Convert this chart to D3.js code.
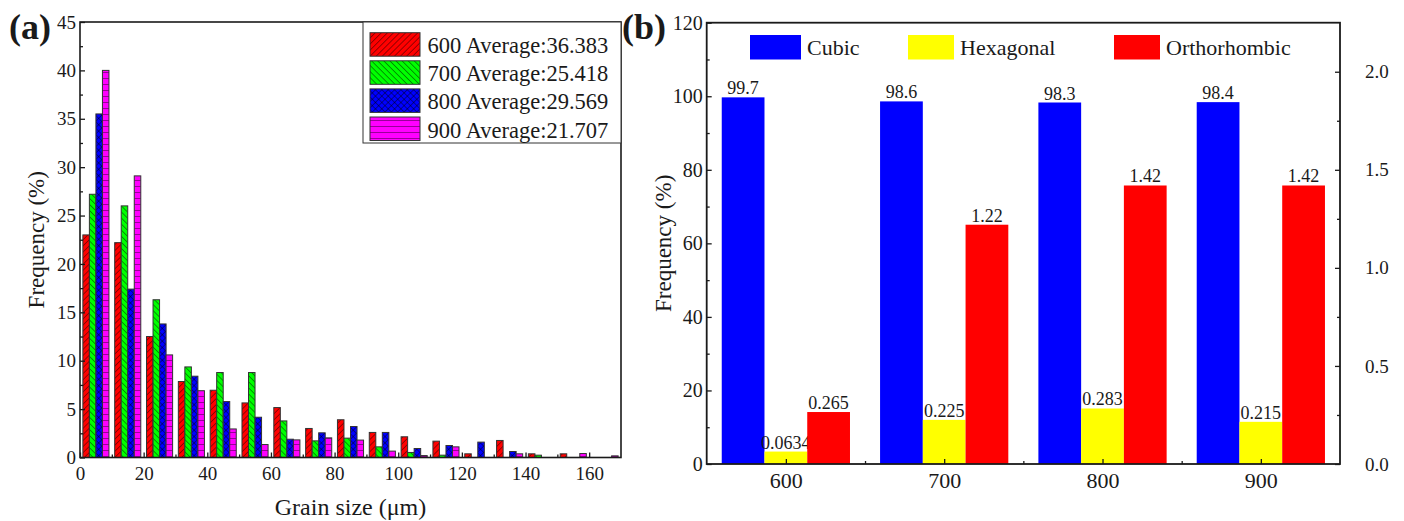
<!DOCTYPE html>
<html>
<head>
<meta charset="utf-8">
<script src="https://cdn.jsdelivr.net/npm/d3@7"></script>
<style>
  body { margin: 0; background: #fff; }
  svg { display: block; }
  text { font-family: "Liberation Serif", "Times New Roman", serif; fill: #1a1a1a; }
</style>
</head>
<body>
<svg id="chart" width="1404" height="521"></svg>
<script>
// ---------- Panel (a): grain size distribution, 10 µm bins ----------
const binStarts = [0, 10, 20, 30, 40, 50, 60, 70, 80, 90, 100, 110, 120, 130, 140, 150, 160];
const temps = ["600", "700", "800", "900"];
const averages = ["36.383", "25.418", "29.569", "21.707"];
const freq600 = [23.0, 22.2, 12.5, 7.85, 6.95, 5.64, 5.16, 3.0, 3.9, 2.59, 2.14, 1.69, 0.38, 1.76, 0.38, 0.38, 0];
const freq700 = [27.2, 26.0, 16.3, 9.36, 8.78, 8.78, 3.78, 1.72, 2.0, 1.1, 0.52, 0.24, 0, 0, 0.24, 0, 0];
const freq800 = [35.5, 17.4, 13.8, 8.4, 5.78, 4.16, 1.89, 2.55, 3.2, 2.59, 0.93, 1.24, 1.59, 0.62, 0, 0, 0];
const freq900 = [40.0, 29.1, 10.6, 6.9, 2.95, 1.34, 1.82, 2.03, 1.8, 0.66, 0.2, 1.1, 0, 0.38, 0, 0.41, 0.17];
const sizeTicks = [0, 20, 40, 60, 80, 100, 120, 140, 160];
const sizeMinor = [10, 30, 50, 70, 90, 110, 130, 150];
const freqTicksA = [0, 5, 10, 15, 20, 25, 30, 35, 40, 45];
const freqMinorA = [2.5, 7.5, 12.5, 17.5, 22.5, 27.5, 32.5, 37.5, 42.5];

// ---------- Panel (b): phase fractions per annealing temperature ----------
const anneal = [600, 700, 800, 900];
const annealMinor = [650, 750, 850];
const phases = ["Cubic", "Hexagonal", "Orthorhombic"];
const cubic = [99.7, 98.6, 98.3, 98.4];
const hexagonal = [0.0634, 0.225, 0.283, 0.215];
const orthorhombic = [0.265, 1.22, 1.42, 1.42];
const leftTicksB = [0, 20, 40, 60, 80, 100, 120];
const leftMinorB = [10, 30, 50, 70, 90, 110];
const rightTicksB = [0, 0.5, 1.0, 1.5, 2.0];
const rightMinorB = [0.25, 0.75, 1.25, 1.75];

const svg = d3.select("#chart");
const ink = "#1a1a1a";

// ---------- hatch patterns ----------
const defs = svg.append("defs");
function hatch(id, color, size, angle, lines) {
  const p = defs.append("pattern")
    .attr("id", id)
    .attr("patternUnits", "userSpaceOnUse")
    .attr("width", size).attr("height", size)
    .attr("patternTransform", `rotate(${angle})`);
  p.append("rect").attr("width", size).attr("height", size).attr("fill", color);
  lines.forEach(l => {
    p.append("line")
      .attr("x1", l[0] * size).attr("y1", l[1] * size)
      .attr("x2", l[2] * size).attr("y2", l[3] * size)
      .attr("stroke", "#000").attr("stroke-width", 0.8);
  });
}
hatch("h600", "#ff0000", 4.3, 45, [[0, 0, 0, 1]]);
hatch("h700", "#00ff00", 4.3, -45, [[0, 0, 0, 1]]);
hatch("h800", "#0000ff", 4.5, 45, [[0, 0, 0, 1], [0, 0, 1, 0]]);
hatch("h900", "#ff00ff", 6, 0, [[0, 0, 1, 0]]);
const fills = ["url(#h600)", "url(#h700)", "url(#h800)", "url(#h900)"];
const seriesA = [freq600, freq700, freq800, freq900];

// ---------- Panel (a) ----------
const A = { left: 80, right: 621, top: 22, bottom: 457.5 };
const xA = d3.scaleLinear().domain([0, 170]).range([A.left, A.right]);
const yA = d3.scaleLinear().domain([0, 45]).range([A.bottom, A.top]);
// four bars side by side inside each 10 µm bin
const inBin = d3.scaleBand().domain(temps).range([0.9, 9.1]);

const gA = svg.append("g");
temps.forEach((t, si) => {
  gA.append("g").selectAll("rect")
    .data(binStarts.map((b, i) => ({ b, v: seriesA[si][i] })).filter(d => d.v > 0))
    .join("rect")
    .attr("x", d => xA(d.b + inBin(t)))
    .attr("width", xA(inBin.bandwidth()) - xA(0))
    .attr("y", d => yA(d.v))
    .attr("height", d => yA(0) - yA(d.v))
    .attr("fill", fills[si])
    .attr("stroke", "#333")
    .attr("stroke-width", 1);
});

function styleAxis(g, size) {
  g.select(".domain").remove();
  g.selectAll(".tick line").attr("stroke", ink).attr("stroke-width", 1.3);
  g.selectAll("text").style("font-size", size + "px").attr("fill", ink);
}

gA.append("g").attr("transform", `translate(${A.left},0)`)
  .call(d3.axisLeft(yA).tickValues(freqTicksA).tickSize(-5).tickPadding(4).tickFormat(d3.format("d")))
  .call(g => styleAxis(g, 19));
gA.append("g").attr("transform", `translate(${A.left},0)`)
  .call(d3.axisLeft(yA).tickValues(freqMinorA).tickSize(-3).tickFormat(""))
  .call(g => styleAxis(g, 19));
gA.append("g").attr("transform", `translate(0,${A.bottom})`)
  .call(d3.axisBottom(xA).tickValues(sizeTicks).tickSize(-5).tickPadding(9).tickFormat(d3.format("d")))
  .call(g => styleAxis(g, 19));
gA.append("g").attr("transform", `translate(0,${A.bottom})`)
  .call(d3.axisBottom(xA).tickValues(sizeMinor).tickSize(-3).tickFormat(""))
  .call(g => styleAxis(g, 19));

gA.append("rect")
  .attr("x", A.left).attr("y", A.top)
  .attr("width", A.right - A.left).attr("height", A.bottom - A.top)
  .attr("fill", "none").attr("stroke", ink).attr("stroke-width", 1.6);

// legend
const legA = gA.append("g");
legA.append("rect")
  .attr("x", 363).attr("y", A.top).attr("width", A.right - 363).attr("height", 121)
  .attr("fill", "#fff").attr("stroke", "#333").attr("stroke-width", 1);
temps.forEach((t, i) => {
  const y0 = 32.7 + i * 28.1;
  legA.append("rect").attr("x", 370).attr("y", y0).attr("width", 50).attr("height", 23.5)
    .attr("fill", fills[i]).attr("stroke", "#333").attr("stroke-width", 1);
  legA.append("text").attr("x", 427.5).attr("y", y0 + 20.5)
    .style("font-size", "22.5px").text(`${t} Average:${averages[i]}`);
});

svg.append("text").attr("x", (A.left + A.right) / 2).attr("y", 515)
  .attr("text-anchor", "middle").style("font-size", "24px").text("Grain size (μm)");
svg.append("text").attr("transform", `translate(44,${(A.top + A.bottom) / 2}) rotate(-90)`)
  .attr("text-anchor", "middle").style("font-size", "23px").text("Frequency (%)");
svg.append("text").attr("x", 9).attr("y", 38.5)
  .style("font-size", "36px").style("font-weight", "bold").text("(a)");

// ---------- Panel (b) ----------
const B = { left: 706.7, right: 1340, top: 22.7, bottom: 464 };
const xB = d3.scaleLinear().domain([550, 950]).range([B.left, B.right]);
const yL = d3.scaleLinear().domain([0, 120]).range([B.bottom, B.top]);
const yR = d3.scaleLinear().domain([0, 2.25]).range([B.bottom, B.top]);
const inGroup = d3.scaleBand().domain(phases).range([-40.5, 40.5]);
const phaseColors = ["#0000ff", "#ffff00", "#ff0000"];
const phaseValues = [cubic, hexagonal, orthorhombic];
// cubic reads against the left axis, the minor phases against the right one
const phaseScale = [yL, yR, yR];

const gB = svg.append("g");
phases.forEach((ph, pi) => {
  const ys = phaseScale[pi];
  const data = anneal.map((a, i) => ({ a, v: phaseValues[pi][i] }));
  const w = xB(550 + inGroup.bandwidth()) - xB(550);
  gB.append("g").selectAll("rect").data(data).join("rect")
    .attr("x", d => xB(d.a + inGroup(ph)))
    .attr("width", w)
    .attr("y", d => ys(d.v))
    .attr("height", d => ys(0) - ys(d.v))
    .attr("fill", phaseColors[pi]);
  gB.append("g").selectAll("text").data(data).join("text")
    .attr("x", d => xB(d.a + inGroup(ph)) + w / 2)
    .attr("y", d => ys(d.v) - 3)
    .attr("text-anchor", "middle")
    .style("font-size", "18px")
    .text(d => String(d.v));
});

gB.append("g").attr("transform", `translate(${B.left},0)`)
  .call(d3.axisLeft(yL).tickValues(leftTicksB).tickSize(-5).tickPadding(4).tickFormat(d3.format("d")))
  .call(g => styleAxis(g, 20));
gB.append("g").attr("transform", `translate(${B.left},0)`)
  .call(d3.axisLeft(yL).tickValues(leftMinorB).tickSize(-3).tickFormat(""))
  .call(g => styleAxis(g, 20));
gB.append("g").attr("transform", `translate(${B.right},0)`)
  .call(d3.axisRight(yR).tickValues(rightTicksB).tickSize(-5).tickPadding(25).tickFormat(d3.format(".1f")))
  .call(g => styleAxis(g, 19));
gB.append("g").attr("transform", `translate(${B.right},0)`)
  .call(d3.axisRight(yR).tickValues(rightMinorB).tickSize(-3).tickFormat(""))
  .call(g => styleAxis(g, 19));
gB.append("g").attr("transform", `translate(0,${B.bottom})`)
  .call(d3.axisBottom(xB).tickValues(anneal).tickSize(-5).tickPadding(8).tickFormat(d3.format("d")))
  .call(g => styleAxis(g, 22));
gB.append("g").attr("transform", `translate(0,${B.bottom})`)
  .call(d3.axisBottom(xB).tickValues(annealMinor).tickSize(-3).tickFormat(""))
  .call(g => styleAxis(g, 22));

gB.append("rect")
  .attr("x", B.left).attr("y", B.top)
  .attr("width", B.right - B.left).attr("height", B.bottom - B.top)
  .attr("fill", "none").attr("stroke", ink).attr("stroke-width", 1.8);

// legend row
const legB = [
  { x: 750, w: 51 },
  { x: 908, w: 46 },
  { x: 1114, w: 46 }
];
phases.forEach((ph, i) => {
  gB.append("rect").attr("x", legB[i].x).attr("y", 35).attr("width", legB[i].w).attr("height", 24.5)
    .attr("fill", phaseColors[i]);
  gB.append("text").attr("x", legB[i].x + legB[i].w + 6).attr("y", 55)
    .style("font-size", "22px").text(ph);
});

svg.append("text").attr("transform", `translate(671,${(B.top + B.bottom) / 2}) rotate(-90)`)
  .attr("text-anchor", "middle").style("font-size", "23px").text("Frequency (%)");
svg.append("text").attr("x", 622).attr("y", 38.5)
  .style("font-size", "36px").style("font-weight", "bold").text("(b)");
</script>
</body>
</html>
